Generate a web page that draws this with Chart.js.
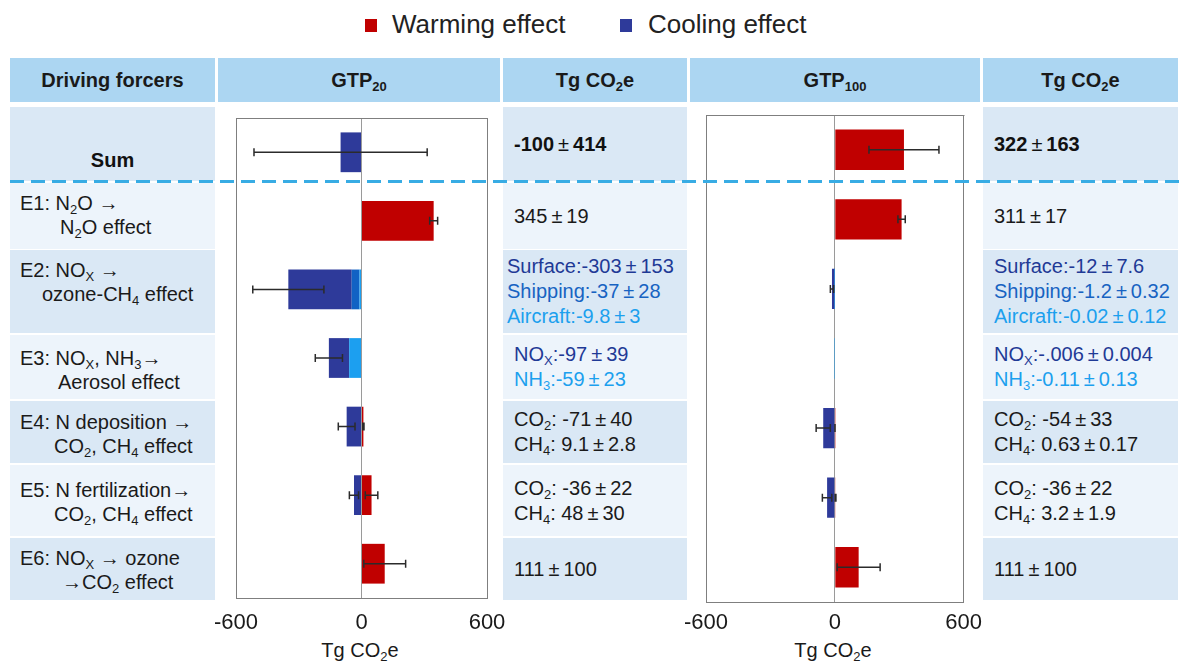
<!DOCTYPE html>
<html>
<head>
<meta charset="utf-8">
<script src="https://cdn.jsdelivr.net/npm/chart.js@4.4.1/dist/chart.umd.min.js"></script>
<style>
  body { margin: 0; width: 1180px; height: 663px; position: relative; overflow: hidden; background: #fff;
         font-family: "Liberation Sans", Arial, sans-serif; color: #1a1a1a; }
  .abs { position: absolute; box-sizing: border-box; }
  .hd { background: #acd6f2; font-weight: bold; font-size: 20px; display: flex; align-items: center; justify-content: center; }
  .m { background: #dae8f5; }
  .l { background: #edf4fb; }
  .vals { display: flex; flex-direction: column; justify-content: center; font-size: 20px; line-height: 25px; white-space: nowrap; }
  .lab { font-size: 20px; line-height: 24px; white-space: nowrap; }
  sub { font-size: 0.65em; vertical-align: -0.3em; line-height: 0; }
  .pm { margin: 0 4px; font-weight: normal; color: inherit; }
  .b { font-weight: bold; color: #111; }
  .k { color: #1a1a1a; }
  .n { color: #1f3a96; }
  .s { color: #1763c2; }
  .a { color: #1ca0ee; }
  .sw { width: 12px; height: 13px; }
  .leg { font-size: 26px; line-height: 30px; color: #222; }
  .axt { font-size: 20px; width: 200px; text-align: center; }
  canvas { position: absolute; z-index: 3; }
  #dash { z-index: 6; height: 3px;
          background: repeating-linear-gradient(90deg, #38ace4 0 14px, transparent 14px 21px); }
</style>
</head>
<body>
<canvas id="gtp20" width="330" height="555" style="left:190px;top:108px;width:330px;height:555px"></canvas>
<canvas id="gtp100" width="330" height="555" style="left:660px;top:108px;width:330px;height:555px"></canvas>
<div id="dash" class="abs" style="left:10px;top:180px;width:1170px"></div>
<script>
// rows, top to bottom
const rowKeys = ['Sum', 'E1', 'E2', 'E3', 'E4', 'E5', 'E6'];
const axisTicks = [-600, 0, 600];

// GTP20, Tg CO2e
const gtp20Dark   = [-100, null, -303, -97, -71, -36, null];
const gtp20Mid    = [null, null, -37, null, null, null, null];
const gtp20Light  = [null, null, -9.8, -59, null, null, null];
const gtp20Red    = [null, 345, null, null, 9.1, 48, 111];
const gtp20NegErr = [414, null, 170, 65, 40, 22, null];
const gtp20PosErr = [null, 19, null, null, 2.8, 30, 100];

// GTP100, Tg CO2e
const gtp100Dark   = [null, null, -12, -0.006, -54, -36, null];
const gtp100Mid    = [null, null, -1.2, null, null, null, null];
const gtp100Light  = [null, null, -0.02, -0.11, null, null, null];
const gtp100Red    = [322, 311, null, null, 0.63, 3.2, 111];
const gtp100NegErr = [null, null, 7.6, null, 33, 22, null];
const gtp100PosErr = [163, 17, null, null, 0.17, 1.9, 100];

// table texts
const headers = ['Driving forcers', 'GTP<sub>20</sub>', 'Tg CO<sub>2</sub>e', 'GTP<sub>100</sub>', 'Tg CO<sub>2</sub>e'];
const rowLabels = [
  ['Sum'],
  ['E1: N<sub>2</sub>O →', 'N<sub>2</sub>O effect'],
  ['E2: NO<sub>X</sub> →', 'ozone-CH<sub>4</sub> effect'],
  ['E3: NO<sub>X</sub>, NH<sub>3</sub>→', 'Aerosol effect'],
  ['E4: N deposition →', 'CO<sub>2</sub>, CH<sub>4</sub> effect'],
  ['E5: N fertilization→', 'CO<sub>2</sub>, CH<sub>4</sub> effect'],
  ['E6: NO<sub>X</sub> → ozone', '→CO<sub>2</sub> effect']
];
const gtp20Text = [
  [['b', '-100±414']],
  [['k', '345±19']],
  [['n', 'Surface:-303±153'], ['s', 'Shipping:-37±28'], ['a', 'Aircraft:-9.8±3']],
  [['n', 'NO<sub>X</sub>:-97±39'], ['a', 'NH<sub>3</sub>:-59±23']],
  [['k', 'CO<sub>2</sub>: -71±40'], ['k', 'CH<sub>4</sub>: 9.1±2.8']],
  [['k', 'CO<sub>2</sub>: -36±22'], ['k', 'CH<sub>4</sub>: 48±30']],
  [['k', '111±100']]
];
const gtp100Text = [
  [['b', '322±163']],
  [['k', '311±17']],
  [['n', 'Surface:-12±7.6'], ['s', 'Shipping:-1.2±0.32'], ['a', 'Aircraft:-0.02±0.12']],
  [['n', 'NO<sub>X</sub>:-.006±0.004'], ['a', 'NH<sub>3</sub>:-0.11±0.13']],
  [['k', 'CO<sub>2</sub>: -54±33'], ['k', 'CH<sub>4</sub>: 0.63±0.17']],
  [['k', 'CO<sub>2</sub>: -36±22'], ['k', 'CH<sub>4</sub>: 3.2±1.9']],
  [['k', '111±100']]
];

const RED = '#c00000', DARK = '#2e3a9a', MID = '#1262c4', LIGHT = '#1c9ff0';

// layout of the table
const colX = [[10, 215], [218, 500], [503, 687], [690, 980], [983, 1178]];
const headY = [58, 102];
const rowY = [[107, 181], [183, 249], [250, 333], [335, 399], [401, 463], [465, 536], [538, 600]];
const shade = ['m', 'l', 'm', 'l', 'm', 'l', 'm'];
const labelTop = [0, 191, 258, 346, 410, 478, 546];
const labelIndent = [0, 60, 42, 58, 54, 54, 62];

function pm(s) {
  return s.replace(/±/g, '<span class="pm">±</span>');
}
function addDiv(cls, css, html) {
  const d = document.createElement('div');
  d.className = 'abs ' + cls;
  d.style.cssText = css;
  d.innerHTML = html || '';
  document.body.appendChild(d);
  return d;
}

// legend
addDiv('sw', 'left:365px;top:19px;background:' + RED);
addDiv('leg', 'left:392px;top:9px', 'Warming effect');
addDiv('sw', 'left:620px;top:19px;background:' + DARK);
addDiv('leg', 'left:648px;top:9px', 'Cooling effect');

// header
headers.forEach((h, c) => {
  addDiv('hd', `left:${colX[c][0]}px;top:${headY[0]}px;width:${colX[c][1] - colX[c][0]}px;height:${headY[1] - headY[0]}px`,
         '<span>' + h + '</span>');
});

// rows
rowKeys.forEach((k, r) => {
  const [y0, y1] = rowY[r];
  [0, 2, 4].forEach(c => {
    addDiv(shade[r], `left:${colX[c][0]}px;top:${y0}px;width:${colX[c][1] - colX[c][0]}px;height:${y1 - y0}px`);
  });
  if (r === 0) {
    addDiv('lab b', `left:${colX[0][0]}px;top:148px;width:${colX[0][1] - colX[0][0]}px;text-align:center`, rowLabels[0][0]);
  } else {
    addDiv('lab', `left:20px;top:${labelTop[r]}px`, rowLabels[r][0]);
    addDiv('lab', `left:${labelIndent[r]}px;top:${labelTop[r] + 24}px`, rowLabels[r][1]);
  }
  [[2, gtp20Text], [4, gtp100Text]].forEach(([c, txt]) => {
    const padL = (c === 2 && r === 2) ? 4 : 11;
    const html = txt[r].map(([cls, t]) => `<div class="${cls}">${pm(t)}</div>`).join('');
    addDiv('vals', `left:${colX[c][0] + padL}px;top:${y0}px;width:${colX[c][1] - colX[c][0] - padL}px;height:${y1 - y0}px`, html);
  });
});

// axis titles
addDiv('axt', 'left:260px;top:639px', 'Tg CO<sub>2</sub>e');
addDiv('axt', 'left:733px;top:639px', 'Tg CO<sub>2</sub>e');

// error bars drawn at the end of each stack
const errorBars = {
  id: 'errorBars',
  afterDatasetsDraw(chart, args, opts) {
    const ctx = chart.ctx;
    const xs = chart.scales.x, ys = chart.scales.y;
    ctx.save();
    ctx.strokeStyle = '#2b2b2b';
    ctx.lineWidth = 1.5;
    rowKeys.forEach((k, i) => {
      let neg = 0, pos = 0;
      chart.data.datasets.forEach(ds => {
        const v = ds.data[i];
        if (v == null) return;
        if (v < 0) neg += v; else pos += v;
      });
      const y = ys.getPixelForValue(i);
      [[neg, opts.neg[i]], [pos, opts.pos[i]]].forEach(([c, e]) => {
        if (e == null) return;
        const a = xs.getPixelForValue(c - e), b = xs.getPixelForValue(c + e);
        ctx.beginPath();
        ctx.moveTo(a, y); ctx.lineTo(b, y);
        ctx.moveTo(a, y - 4); ctx.lineTo(a, y + 4);
        ctx.moveTo(b, y - 4); ctx.lineTo(b, y + 4);
        ctx.stroke();
      });
    });
    ctx.restore();
  }
};

// top edge of the plot frame
const frame = {
  id: 'frame',
  beforeDatasetsDraw(chart) {
    const { left, right, top } = chart.chartArea;
    const ctx = chart.ctx;
    ctx.save();
    ctx.strokeStyle = '#7f7f7f';
    ctx.lineWidth = 1;
    ctx.beginPath();
    ctx.moveTo(Math.round(left) + 0.5, Math.round(top) + 0.5);
    ctx.lineTo(Math.round(right) + 0.5, Math.round(top) + 0.5);
    ctx.stroke();
    ctx.restore();
  }
};

function makeChart(id, dark, mid, light, red, negErr, posErr, pad, axisH, tickPad) {
  const ds = (data, color) => ({ data, backgroundColor: color, borderWidth: 0, stack: 's',
                                 barPercentage: 0.58, categoryPercentage: 1 });
  return new Chart(document.getElementById(id), {
    type: 'bar',
    data: {
      labels: rowKeys,
      datasets: [ds(light, LIGHT), ds(mid, MID), ds(dark, DARK), ds(red, RED)]
    },
    options: {
      indexAxis: 'y',
      responsive: false,
      animation: false,
      events: [],
      layout: { padding: pad },
      plugins: { legend: { display: false }, tooltip: { enabled: false },
                 errorBars: { neg: negErr, pos: posErr } },
      scales: {
        x: {
          stacked: true, min: axisTicks[0], max: axisTicks[2],
          afterBuildTicks: s => { s.ticks = axisTicks.map(v => ({ value: v })); },
          afterFit: s => { s.height = axisH; },
          grid: { color: c => c.tick && c.tick.value === 0 ? '#9a9a9a' : '#7f7f7f', drawTicks: false },
          border: { color: '#7f7f7f' },
          ticks: { padding: tickPad, color: '#1a1a1a', font: { family: 'Liberation Sans', size: 22 } }
        },
        y: { stacked: true, display: false }
      }
    },
    plugins: [frame, errorBars]
  });
}

makeChart('gtp20', gtp20Dark, gtp20Mid, gtp20Light, gtp20Red, gtp20NegErr, gtp20PosErr,
          { left: 46, right: 33, top: 10, bottom: 0 }, 65, 12);
makeChart('gtp100', gtp100Dark, gtp100Mid, gtp100Light, gtp100Red, gtp100NegErr, gtp100PosErr,
          { left: 46, right: 24, top: 7, bottom: 0 }, 61, 8);
</script>
</body>
</html>
